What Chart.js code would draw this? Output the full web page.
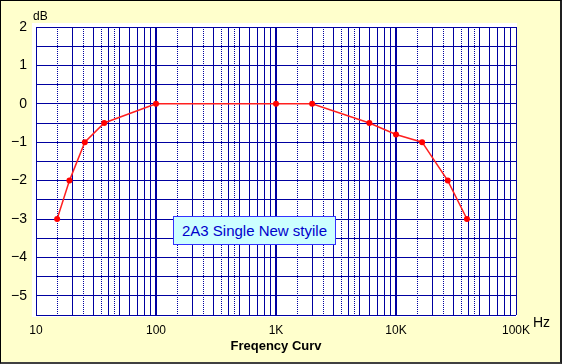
<!DOCTYPE html>
<html>
<head>
<meta charset="utf-8">
<script src="https://cdn.jsdelivr.net/npm/chart.js@4/dist/chart.umd.min.js"></script>
<style>
  html, body { margin: 0; padding: 0; background: #FFFFCC; }
  #wrap { position: relative; width: 562px; height: 364px; overflow: hidden; }
  #c { position: absolute; left: 0; top: 0; }
  #frame { position: absolute; left: 0; top: 0; width: 562px; height: 364px; box-sizing: border-box;
           border-left: 1px solid #000; border-top: 1px solid #000; border-right: 2px solid #202020; border-bottom: 2px solid #404040;
           pointer-events: none; }
  #note { position: absolute; left: 173px; top: 216px; width: 163px; height: 29px; box-sizing: border-box;
          background: #CCFFFF; border: 1px solid #3333FF; color: #0000CC;
          font: 15px "Liberation Sans", Arial, sans-serif; line-height: 27px; text-align: center; white-space: nowrap; }
</style>
</head>
<body>
<div id="wrap">
  <canvas id="c" width="562" height="364"></canvas>
  <div id="note">2A3 Single New styile</div>
  <div id="frame"></div>
</div>
<script>
// ---- data ----
const freqHz = [15, 19, 25.5, 37, 100, 1000, 2000, 6000, 10000, 16500, 27000, 39000];
const gainDb = [-3, -2, -1, -0.5, 0, 0, 0, -0.5, -0.8, -1, -2, -3];

const xLabelValues = [10, 100, 1000, 10000, 100000];
const xLabelTexts  = ['10', '100', '1K', '10K', '100K'];
const gridMultiples   = [1, 1.5, 2, 2.5, 3, 3.5, 4, 4.5, 5, 6, 7, 8, 9];
const dottedMultiples = [1.5, 2.5, 3.5, 4.5];
const thickDecades = [100, 1000, 10000];

const xTitle = 'Freqency Curv';
const yUnit = 'dB';
const xUnit = 'Hz';

const NAVY = '#0000A0';
const FONT = '"Liberation Sans", Arial, sans-serif';

function mantissa(v) {
  const d = Math.pow(10, Math.floor(Math.log10(v) + 1e-9));
  return Math.round(v / d * 100) / 100;
}

const gridTickValues = [];
for (let d = 10; d < 100000; d *= 10) {
  gridMultiples.forEach(m => gridTickValues.push(Math.round(d * m)));
}
gridTickValues.push(100000);

const extras = {
  id: 'extras',
  beforeDraw(chart) {
    const { ctx, chartArea: a } = chart;
    ctx.save();
    ctx.fillStyle = '#FFFFFF';
    ctx.fillRect(a.left - 4, a.top - 4, a.right - a.left + 5, a.bottom - a.top + 6);
    ctx.restore();
  },
  afterDraw(chart) {
    const { ctx, chartArea: a } = chart;
    ctx.save();
    ctx.fillStyle = '#000';
    ctx.textBaseline = 'alphabetic';
    ctx.textAlign = 'left';
    ctx.font = '12px ' + FONT;
    ctx.fillText(yUnit, a.left - 3, 20);
    ctx.font = '14px ' + FONT;
    ctx.fillText(xUnit, a.right + 17, 327);
    ctx.restore();
  }
};

new Chart(document.getElementById('c'), {
  type: 'line',
  data: {
    datasets: [{
      data: freqHz.map((f, i) => ({ x: f, y: gainDb[i] })),
      borderColor: '#FF2020',
      backgroundColor: '#FF0000',
      borderWidth: 1.5,
      pointRadius: 3,
      pointBorderWidth: 0,
      pointBackgroundColor: '#FF0000',
      tension: 0,
      fill: false
    }]
  },
  options: {
    responsive: false,
    animation: false,
    devicePixelRatio: 1,
    layout: { padding: { left: 0, top: 27, right: 46, bottom: 0 } },
    plugins: { legend: { display: false }, tooltip: { enabled: false } },
    scales: {
      x: {
        type: 'logarithmic',
        min: 10,
        max: 100000,
        afterBuildTicks(scale) {
          scale.ticks = gridTickValues.map(v => ({ value: v }));
        },
        afterFit(scale) { scale.height = 49; },
        grid: {
          drawTicks: false,
          color: NAVY,
          lineWidth: ctx => (ctx.tick && thickDecades.includes(ctx.tick.value)) ? 2 : 1
        },
        border: {
          display: false,
          dash: ctx => (ctx.tick && dottedMultiples.includes(mantissa(ctx.tick.value))) ? [1, 1] : []
        },
        ticks: {
          autoSkip: false,
          maxRotation: 0,
          minRotation: 0,
          padding: 8,
          color: '#000',
          font: { family: FONT, size: 12 },
          callback: (v) => {
            const i = xLabelValues.indexOf(v);
            return i >= 0 ? xLabelTexts[i] : '';
          }
        },
        title: {
          display: true,
          text: xTitle,
          color: '#000',
          font: { family: FONT, size: 13, weight: 'bold' },
          padding: { top: 0, bottom: 10 }
        }
      },
      y: {
        min: -5.5,
        max: 2,
        afterFit(scale) { scale.width = 36; },
        grid: { drawTicks: false, color: NAVY, lineWidth: 1 },
        border: { display: false },
        ticks: {
          autoSkip: false,
          stepSize: 0.5,
          padding: 9,
          color: '#000',
          font: { family: FONT, size: 14 },
          callback: (v) => Number.isInteger(v) ? (v < 0 ? '\u2212' + Math.abs(v) : String(v)) : ''
        }
      }
    }
  },
  plugins: [extras]
});
</script>
</body>
</html>
